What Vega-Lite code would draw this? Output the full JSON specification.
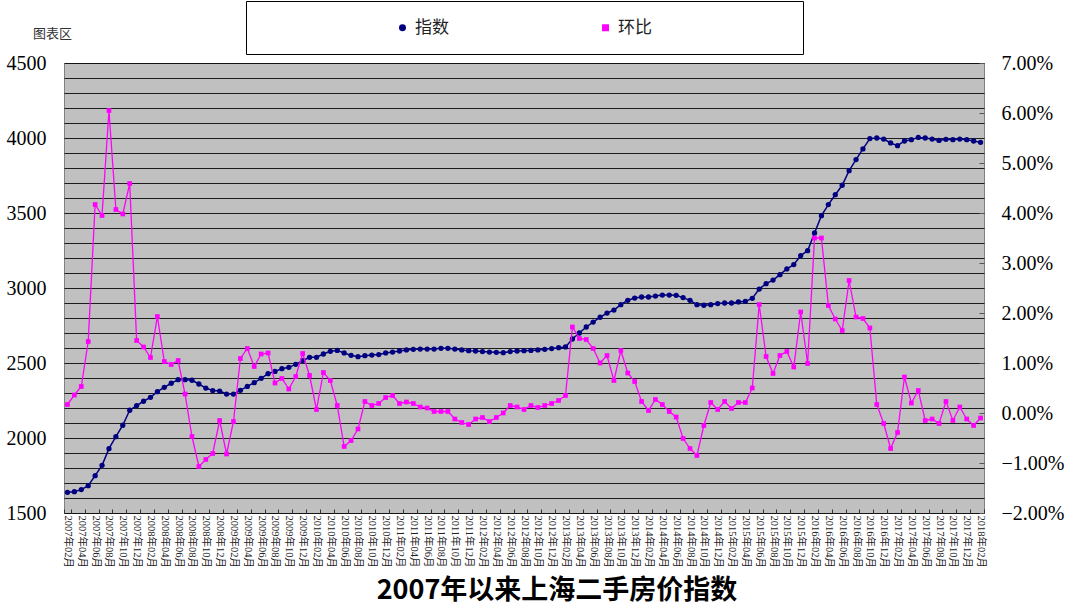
{
  "$schema": "https://vega.github.io/schema/vega-lite/v6.json",
  "width": 920,
  "height": 450,
  "autosize": "none",
  "padding": {"left": 64, "top": 63, "right": 96, "bottom": 102},
  "background": "white",
  "title": {"text": "2007年以来上海二手房价指数", "orient": "bottom", "anchor": "middle", "frame": "group", "dx": 33, "offset": 11, "font": "Noto Sans CJK SC", "fontSize": 27, "fontWeight": "bold", "color": "#000"},
  "data": {"values": [
    {"month": "2007年02月", "index": 1638, "mom": 0.17},
    {"month": "2007年03月", "index": 1642, "mom": 0.36},
    {"month": "2007年04月", "index": 1656, "mom": 0.53},
    {"month": "2007年05月", "index": 1682, "mom": 1.43},
    {"month": "2007年06月", "index": 1749, "mom": 4.17},
    {"month": "2007年07月", "index": 1818, "mom": 3.95},
    {"month": "2007年08月", "index": 1929, "mom": 6.05},
    {"month": "2007年09月", "index": 2009, "mom": 4.07},
    {"month": "2007年10月", "index": 2085, "mom": 3.98},
    {"month": "2007年11月", "index": 2185, "mom": 4.59},
    {"month": "2007年12月", "index": 2216, "mom": 1.45},
    {"month": "2008年01月", "index": 2245, "mom": 1.32},
    {"month": "2008年02月", "index": 2271, "mom": 1.11},
    {"month": "2008年03月", "index": 2309, "mom": 1.93},
    {"month": "2008年04月", "index": 2338, "mom": 1.03},
    {"month": "2008年05月", "index": 2365, "mom": 0.97},
    {"month": "2008年06月", "index": 2389, "mom": 1.05},
    {"month": "2008年07月", "index": 2389, "mom": 0.38},
    {"month": "2008年08月", "index": 2385, "mom": -0.47},
    {"month": "2008年09月", "index": 2360, "mom": -1.07},
    {"month": "2008年10月", "index": 2333, "mom": -0.93},
    {"month": "2008年11月", "index": 2316, "mom": -0.81},
    {"month": "2008年12月", "index": 2313, "mom": -0.15},
    {"month": "2009年01月", "index": 2293, "mom": -0.82},
    {"month": "2009年02月", "index": 2293, "mom": -0.17},
    {"month": "2009年03月", "index": 2318, "mom": 1.09},
    {"month": "2009年04月", "index": 2344, "mom": 1.29},
    {"month": "2009年05月", "index": 2369, "mom": 0.93},
    {"month": "2009年06月", "index": 2398, "mom": 1.18},
    {"month": "2009年07月", "index": 2429, "mom": 1.2},
    {"month": "2009年08月", "index": 2444, "mom": 0.6},
    {"month": "2009年09月", "index": 2462, "mom": 0.69},
    {"month": "2009年10月", "index": 2471, "mom": 0.48},
    {"month": "2009年11月", "index": 2491, "mom": 0.73},
    {"month": "2009年12月", "index": 2516, "mom": 1.19},
    {"month": "2010年01月", "index": 2538, "mom": 0.75},
    {"month": "2010年02月", "index": 2538, "mom": 0.07},
    {"month": "2010年03月", "index": 2560, "mom": 0.81},
    {"month": "2010年04月", "index": 2578, "mom": 0.65},
    {"month": "2010年05月", "index": 2584, "mom": 0.15},
    {"month": "2010年06月", "index": 2567, "mom": -0.67},
    {"month": "2010年07月", "index": 2551, "mom": -0.55},
    {"month": "2010年08月", "index": 2542, "mom": -0.32},
    {"month": "2010年09月", "index": 2549, "mom": 0.23},
    {"month": "2010年10月", "index": 2553, "mom": 0.15},
    {"month": "2010年11月", "index": 2556, "mom": 0.19},
    {"month": "2010年12月", "index": 2567, "mom": 0.31},
    {"month": "2011年01月", "index": 2573, "mom": 0.35},
    {"month": "2011年02月", "index": 2580, "mom": 0.19},
    {"month": "2011年03月", "index": 2587, "mom": 0.22},
    {"month": "2011年04月", "index": 2591, "mom": 0.19},
    {"month": "2011年05月", "index": 2593, "mom": 0.12},
    {"month": "2011年06月", "index": 2593, "mom": 0.1},
    {"month": "2011年07月", "index": 2593, "mom": 0.03},
    {"month": "2011年08月", "index": 2598, "mom": 0.03},
    {"month": "2011年09月", "index": 2598, "mom": 0.03},
    {"month": "2011年10月", "index": 2593, "mom": -0.12},
    {"month": "2011年11月", "index": 2587, "mom": -0.19},
    {"month": "2011年12月", "index": 2582, "mom": -0.23},
    {"month": "2012年01月", "index": 2580, "mom": -0.12},
    {"month": "2012年02月", "index": 2576, "mom": -0.09},
    {"month": "2012年03月", "index": 2573, "mom": -0.17},
    {"month": "2012年04月", "index": 2571, "mom": -0.09},
    {"month": "2012年05月", "index": 2569, "mom": 0.0},
    {"month": "2012年06月", "index": 2576, "mom": 0.15},
    {"month": "2012年07月", "index": 2580, "mom": 0.12},
    {"month": "2012年08月", "index": 2582, "mom": 0.07},
    {"month": "2012年09月", "index": 2584, "mom": 0.15},
    {"month": "2012年10月", "index": 2587, "mom": 0.11},
    {"month": "2012年11月", "index": 2591, "mom": 0.15},
    {"month": "2012年12月", "index": 2596, "mom": 0.19},
    {"month": "2013年01月", "index": 2602, "mom": 0.25},
    {"month": "2013年02月", "index": 2607, "mom": 0.35},
    {"month": "2013年03月", "index": 2660, "mom": 1.72},
    {"month": "2013年04月", "index": 2700, "mom": 1.49},
    {"month": "2013年05月", "index": 2740, "mom": 1.47},
    {"month": "2013年06月", "index": 2773, "mom": 1.29},
    {"month": "2013年07月", "index": 2805, "mom": 1.0},
    {"month": "2013年08月", "index": 2833, "mom": 1.15},
    {"month": "2013年09月", "index": 2853, "mom": 0.65},
    {"month": "2013年10月", "index": 2889, "mom": 1.25},
    {"month": "2013年11月", "index": 2918, "mom": 0.8},
    {"month": "2013年12月", "index": 2933, "mom": 0.63},
    {"month": "2014年01月", "index": 2940, "mom": 0.23},
    {"month": "2014年02月", "index": 2940, "mom": 0.05},
    {"month": "2014年03月", "index": 2946, "mom": 0.27},
    {"month": "2014年04月", "index": 2953, "mom": 0.17},
    {"month": "2014年05月", "index": 2953, "mom": 0.03},
    {"month": "2014年06月", "index": 2951, "mom": -0.08},
    {"month": "2014年07月", "index": 2936, "mom": -0.51},
    {"month": "2014年08月", "index": 2918, "mom": -0.71},
    {"month": "2014年09月", "index": 2889, "mom": -0.85},
    {"month": "2014年10月", "index": 2885, "mom": -0.25},
    {"month": "2014年11月", "index": 2889, "mom": 0.21},
    {"month": "2014年12月", "index": 2896, "mom": 0.07},
    {"month": "2015年01月", "index": 2900, "mom": 0.23},
    {"month": "2015年02月", "index": 2900, "mom": 0.09},
    {"month": "2015年03月", "index": 2907, "mom": 0.21},
    {"month": "2015年04月", "index": 2911, "mom": 0.21},
    {"month": "2015年05月", "index": 2931, "mom": 0.5},
    {"month": "2015年06月", "index": 2993, "mom": 2.17},
    {"month": "2015年07月", "index": 3029, "mom": 1.13},
    {"month": "2015年08月", "index": 3053, "mom": 0.79},
    {"month": "2015年09月", "index": 3089, "mom": 1.15},
    {"month": "2015年10月", "index": 3127, "mom": 1.23},
    {"month": "2015年11月", "index": 3156, "mom": 0.92},
    {"month": "2015年12月", "index": 3216, "mom": 2.02},
    {"month": "2016年01月", "index": 3249, "mom": 0.99},
    {"month": "2016年02月", "index": 3367, "mom": 3.5},
    {"month": "2016年03月", "index": 3482, "mom": 3.5},
    {"month": "2016年04月", "index": 3556, "mom": 2.15},
    {"month": "2016年05月", "index": 3622, "mom": 1.88},
    {"month": "2016年06月", "index": 3685, "mom": 1.65},
    {"month": "2016年07月", "index": 3782, "mom": 2.65},
    {"month": "2016年08月", "index": 3856, "mom": 1.92},
    {"month": "2016年09月", "index": 3927, "mom": 1.89},
    {"month": "2016年10月", "index": 3996, "mom": 1.7},
    {"month": "2016年11月", "index": 4000, "mom": 0.17},
    {"month": "2016年12月", "index": 3993, "mom": -0.21},
    {"month": "2017年01月", "index": 3967, "mom": -0.71},
    {"month": "2017年02月", "index": 3949, "mom": -0.39},
    {"month": "2017年03月", "index": 3980, "mom": 0.72},
    {"month": "2017年04月", "index": 3989, "mom": 0.2},
    {"month": "2017年05月", "index": 4004, "mom": 0.45},
    {"month": "2017年06月", "index": 4000, "mom": -0.15},
    {"month": "2017年07月", "index": 3993, "mom": -0.12},
    {"month": "2017年08月", "index": 3984, "mom": -0.21},
    {"month": "2017年09月", "index": 3991, "mom": 0.23},
    {"month": "2017年10月", "index": 3989, "mom": -0.15},
    {"month": "2017年11月", "index": 3993, "mom": 0.12},
    {"month": "2017年12月", "index": 3989, "mom": -0.12},
    {"month": "2018年01月", "index": 3980, "mom": -0.25},
    {"month": "2018年02月", "index": 3971, "mom": -0.1}
  ]},
  "encoding": {
    "x": {
      "field": "month", "type": "ordinal", "sort": null,
      "scale": {"type": "band", "paddingInner": 0, "paddingOuter": 0},
      "axis": {
        "title": null,
        "values": ["2007年02月","2007年04月","2007年06月","2007年08月","2007年10月","2007年12月","2008年02月","2008年04月","2008年06月","2008年08月","2008年10月","2008年12月","2009年02月","2009年04月","2009年06月","2009年08月","2009年10月","2009年12月","2010年02月","2010年04月","2010年06月","2010年08月","2010年10月","2010年12月","2011年02月","2011年04月","2011年06月","2011年08月","2011年10月","2011年12月","2012年02月","2012年04月","2012年06月","2012年08月","2012年10月","2012年12月","2013年02月","2013年04月","2013年06月","2013年08月","2013年10月","2013年12月","2014年02月","2014年04月","2014年06月","2014年08月","2014年10月","2014年12月","2015年02月","2015年04月","2015年06月","2015年08月","2015年10月","2015年12月","2016年02月","2016年04月","2016年06月","2016年08月","2016年10月","2016年12月","2017年02月","2017年04月","2017年06月","2017年08月","2017年10月","2017年12月","2018年02月"],
        "labelAngle": 90,
        "labelFont": "'Liberation Serif', 'Noto Sans CJK SC'",
        "labelFontSize": 10.5,
        "labelColor": "#222",
        "labelPadding": 6,
        "labelOverlap": false,
        "tickBand": "extent",
        "ticks": true,
        "tickSize": -4,
        "tickColor": "#333",
        "domain": false,
        "grid": false
      }
    }
  },
  "layer": [
    {
      "encoding": {
        "y": {
          "field": "index", "type": "quantitative",
          "scale": {"domain": [1500, 4500], "nice": false, "zero": false},
          "axis": {
            "orient": "left",
            "values": [1500,1600,1700,1800,1900,2000,2100,2200,2300,2400,2500,2600,2700,2800,2900,3000,3100,3200,3300,3400,3500,3600,3700,3800,3900,4000,4100,4200,4300,4400,4500],
            "labelExpr": "datum.value % 500 === 0 ? datum.label : ''",
            "format": "d",
            "grid": true, "gridColor": "#000", "gridOpacity": 0.85, "gridWidth": 1,
            "ticks": false, "domain": false,
            "labelFont": "Liberation Serif", "labelFontSize": 20, "labelColor": "#000",
            "labelPadding": 18, "labelOverlap": false, "labelFlush": false, "labelBaseline": "middle",
            "title": "图表区", "titleAngle": 0, "titleX": -12, "titleY": -30,
            "titleFont": "Noto Sans CJK SC", "titleFontSize": 13, "titleFontWeight": "normal",
            "titleColor": "#333", "titleAlign": "center", "titleBaseline": "middle"
          }
        }
      },
      "layer": [
        {"mark": {"type": "line", "strokeWidth": 1.5}, "encoding": {"color": {"datum": "指数", "legend": {"title": " ", "titleOrient": "right", "titlePadding": 133}}}},
        {"mark": {"type": "point", "filled": true, "size": 28, "opacity": 1}, "encoding": {"color": {"datum": "指数", "legend": {"title": " ", "titleOrient": "right", "titlePadding": 133}}, "shape": {"datum": "指数", "legend": {"title": " ", "titleOrient": "right", "titlePadding": 133}}}}
      ]
    },
    {
      "encoding": {
        "y": {
          "field": "mom", "type": "quantitative",
          "scale": {"domain": [-2, 7], "nice": false, "zero": false},
          "axis": {
            "orient": "right",
            "values": [-2,-1,0,1,2,3,4,5,6,7],
            "labelExpr": "format(datum.value, '.2f') + '%'",
            "grid": false, "domain": false,
            "ticks": true, "tickSize": -5, "tickColor": "#555",
            "labelFont": "Liberation Serif", "labelFontSize": 20, "labelColor": "#000",
            "labelPadding": 22, "labelOverlap": false, "labelFlush": false, "labelBaseline": "middle",
            "title": null
          }
        }
      },
      "layer": [
        {"mark": {"type": "line", "strokeWidth": 1.3}, "encoding": {"color": {"datum": "环比"}}},
        {"mark": {"type": "point", "filled": true, "size": 22, "opacity": 1}, "encoding": {"color": {"datum": "环比"}, "shape": {"datum": "环比"}}}
      ]
    }
  ],
  "resolve": {"scale": {"y": "independent"}},
  "config": {
    "view": {"fill": "#C0C0C0", "stroke": "#808080", "strokeWidth": 1},
    "range": {"category": ["#000080", "#FF00FF"]},
    "legend": {
      "orient": "none", "legendX": 182, "legendY": -62,
      "direction": "horizontal",
      "strokeColor": "#000", "fillColor": "#fff", "padding": 18,
      "labelFont": "Noto Sans CJK SC", "labelFontSize": 17, "labelColor": "#222",
      "titleFontSize": 17,
      "symbolSize": 30, "symbolOffset": 130, "columnPadding": 18, "labelOffset": 4,
      "labelLimit": 400
    },
    "shape": {"category": ["diamond", "square"]}
  }
}
